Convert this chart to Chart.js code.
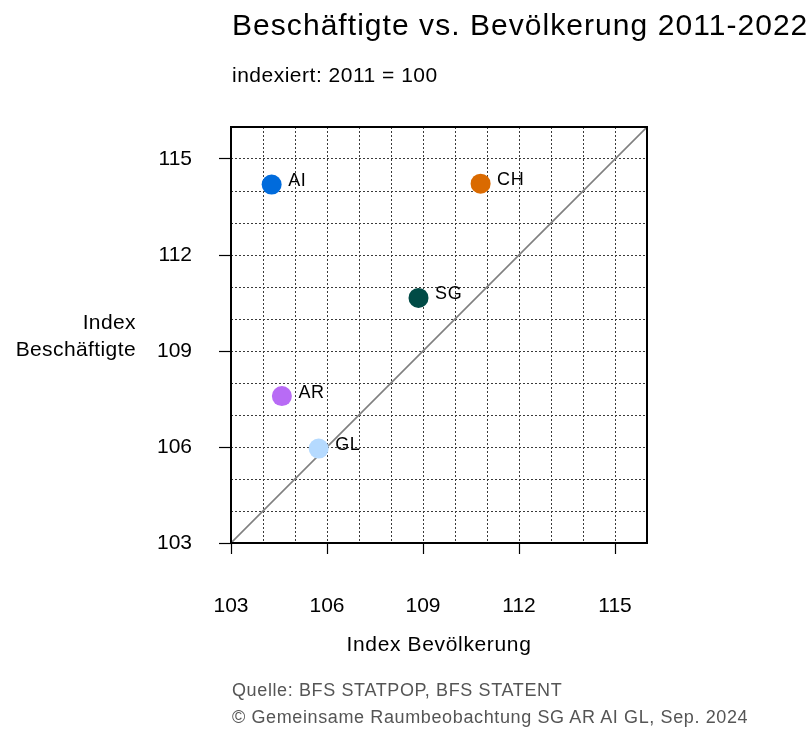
<!DOCTYPE html>
<html><head><meta charset="utf-8">
<script src="https://cdn.jsdelivr.net/npm/chart.js@4/dist/chart.umd.min.js"></script>
<style>
html,body{margin:0;padding:0;background:#fff;}
#wrap{position:relative;width:811px;height:729px;font-family:"Liberation Sans",Arial,sans-serif;overflow:hidden;}
#c{position:absolute;left:0;top:0;}
.t{position:absolute;white-space:nowrap;color:#000;}
</style></head><body>
<div id="wrap">
<canvas id="c" width="811" height="729"></canvas>
<div class="t" style="left:232px;top:9.6px;font-size:30px;line-height:30px;letter-spacing:1.05px">Beschäftigte vs. Bevölkerung 2011-2022</div>
<div class="t" style="left:232px;top:64px;font-size:21px;line-height:21px;letter-spacing:0.5px">indexiert: 2011 = 100</div>
<div class="t" style="left:0;width:136px;text-align:right;top:309.4px;font-size:21px;line-height:26.7px;letter-spacing:0.4px">Index<br>Beschäftigte</div>
<div class="t" style="left:339px;width:200px;text-align:center;top:633.2px;font-size:21px;line-height:21px;letter-spacing:0.65px">Index Bevölkerung</div>
<div class="t" style="left:232px;top:677px;font-size:18px;line-height:26.5px;letter-spacing:0.62px;color:#555">Quelle: BFS STATPOP, BFS STATENT<br>© Gemeinsame Raumbeobachtung SG AR AI GL, Sep. 2024</div>
</div>
<script>
// Data
const regions = ['AI', 'CH', 'SG', 'AR', 'GL'];
const bevoelkerung = [104.27, 110.80, 108.86, 104.59, 105.74];
const beschaeftigte = [114.20, 114.23, 110.66, 107.59, 105.95];
const diagonal = [103, 116];
const tickLabels = [103, 106, 109, 112, 115];
const axisMin = 103, axisMax = 116;

const regionColors = ['#006BDC', '#DA6A00', '#004B46', '#B86BF5', '#B5DAFF'];

const labelPlugin = {
  id: 'pointLabels',
  afterDatasetsDraw(chart) {
    const ctx = chart.ctx;
    const meta = chart.getDatasetMeta(0);
    ctx.save();
    ctx.font = '18px "Liberation Sans", Arial, sans-serif';
    ctx.fillStyle = '#000';
    ctx.textAlign = 'left';
    ctx.textBaseline = 'alphabetic';
    try { ctx.letterSpacing = '0.6px'; } catch (e) {}
    meta.data.forEach((pt, i) => {
      ctx.fillText(regions[i], pt.x + 16.5, pt.y + 1.5);
    });
    ctx.restore();
  }
};
const framePlugin = {
  id: 'frame',
  afterDraw(chart) {
    const a = chart.chartArea, ctx = chart.ctx;
    ctx.save();
    ctx.strokeStyle = '#000';
    ctx.lineWidth = 2;
    ctx.strokeRect(a.left, a.top, a.right - a.left, a.bottom - a.top);
    ctx.restore();
  }
};

const tickCb = v => tickLabels.includes(v) ? String(v) : '';
const tickCol = c => (c.tick && tickLabels.includes(c.tick.value)) ? '#000' : 'rgba(0,0,0,0)';
const font = {family: '"Liberation Sans", Arial, sans-serif', size: 21};

new Chart(document.getElementById('c'), {
  type: 'scatter',
  data: {
    datasets: [
      {
        data: regions.map((r, i) => ({x: bevoelkerung[i], y: beschaeftigte[i]})),
        backgroundColor: regionColors,
        borderWidth: 0,
        pointRadius: 10,
        pointHoverRadius: 10
      },
      {
        type: 'line',
        data: diagonal.map(v => ({x: v, y: v})),
        borderColor: '#808080',
        borderWidth: 1.6,
        pointRadius: 0,
        fill: false
      }
    ]
  },
  options: {
    responsive: false,
    animation: false,
    devicePixelRatio: 1,
    layout: {padding: {left: 0, right: 164, top: 127, bottom: 0}},
    plugins: {legend: {display: false}, tooltip: {enabled: false}},
    scales: {
      x: {
        type: 'linear', min: axisMin, max: axisMax,
        afterFit: s => { s.height = 186; },
        ticks: {stepSize: 1, autoSkip: false, maxRotation: 0, callback: tickCb, color: '#000', font, padding: 40},
        grid: {color: '#3a3a3a', lineWidth: 1, tickLength: 11, tickColor: tickCol, tickWidth: 1.2},
        border: {display: false, dash: [2, 2]}
      },
      y: {
        type: 'linear', min: axisMin, max: axisMax,
        afterFit: s => { s.width = 231; },
        ticks: {stepSize: 1, autoSkip: false, callback: tickCb, color: '#000', font, padding: 27},
        grid: {color: '#3a3a3a', lineWidth: 1, tickLength: 12, tickColor: tickCol, tickWidth: 1.2},
        border: {display: false, dash: [2, 2]}
      }
    }
  },
  plugins: [labelPlugin, framePlugin]
});
</script>
</body></html>
